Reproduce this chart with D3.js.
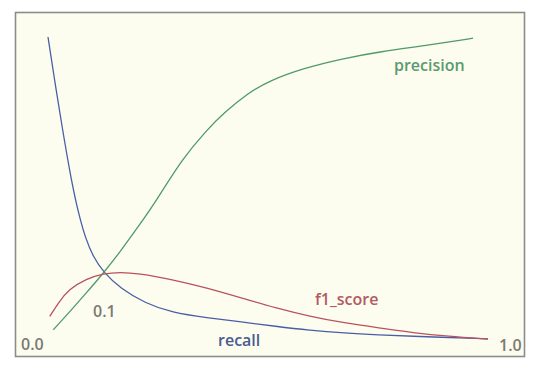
<!DOCTYPE html>
<html>
<head>
<meta charset="utf-8">
<script src="https://cdn.jsdelivr.net/npm/d3@7"></script>
<style>
  html, body { margin: 0; padding: 0; background: #ffffff; }
  svg { display: block; }
</style>
</head>
<body>
<svg id="chart" width="540" height="366"></svg>
<script>
// threshold (0..1) vs metric value (0..1)
const recallT = [0.0, 0.016, 0.032, 0.054, 0.071, 0.086, 0.102, 0.126, 0.165, 0.220, 0.282, 0.361, 0.439, 0.517, 0.595, 0.674, 0.752, 0.830, 1.0];
const recallV = [1.0, 0.848, 0.703, 0.518, 0.408, 0.333, 0.277, 0.223, 0.170, 0.122, 0.090, 0.073, 0.060, 0.045, 0.032, 0.023, 0.017, 0.012, 0.004];

const precisionT = [0.012, 0.048, 0.087, 0.126, 0.165, 0.204, 0.243, 0.306, 0.361, 0.400, 0.455, 0.502, 0.580, 0.674, 0.752, 0.870, 0.966];
const precisionV = [0.034, 0.091, 0.155, 0.221, 0.293, 0.372, 0.452, 0.600, 0.693, 0.750, 0.815, 0.855, 0.897, 0.930, 0.951, 0.974, 0.996];

const f1T = [0.004, 0.024, 0.048, 0.087, 0.126, 0.165, 0.204, 0.282, 0.361, 0.439, 0.517, 0.595, 0.674, 0.752, 0.830, 0.909, 1.0];
const f1V = [0.078, 0.124, 0.168, 0.202, 0.220, 0.224, 0.220, 0.200, 0.172, 0.139, 0.106, 0.078, 0.056, 0.040, 0.024, 0.012, 0.003];

const seriesNames = ["recall", "precision", "f1_score"];
const tickLabels = ["0.0", "0.1", "1.0"];

const svg = d3.select("#chart");

// frame
svg.append("rect")
  .attr("x", 15.5).attr("y", 12.5)
  .attr("width", 509).attr("height", 344)
  .attr("fill", "#fdfdef")
  .attr("stroke", "#8c8c88")
  .attr("stroke-width", 1.6);

const x = d3.scaleLinear().domain([0, 1]).range([48, 488]);
const y = d3.scaleLinear().domain([0, 1]).range([340, 37]);

const line = d3.line()
  .x(d => x(d[0]))
  .y(d => y(d[1]))
  .curve(d3.curveBasis);

const series = [
  { name: seriesNames[0], t: recallT, v: recallV, color: "#4a5ea6" },
  { name: seriesNames[1], t: precisionT, v: precisionV, color: "#4f9a68" },
  { name: seriesNames[2], t: f1T, v: f1V, color: "#b8525f" }
];

series.forEach(s => {
  const pts = s.t.map((t, i) => [t, s.v[i]]);
  svg.append("path")
    .datum(pts)
    .attr("d", line)
    .attr("fill", "none")
    .attr("stroke", s.color)
    .attr("stroke-width", 1.3);
});

const font = "'Open Sans', 'Noto Sans', sans-serif";

// series labels
const labelPos = [
  { text: seriesNames[0], x: 218, y: 346, color: "#4a5a90" },
  { text: seriesNames[1], x: 394, y: 71, color: "#5a9a70" },
  { text: seriesNames[2], x: 315, y: 305, color: "#b25a64" }
];
labelPos.forEach(l => {
  svg.append("text")
    .attr("x", l.x).attr("y", l.y)
    .attr("fill", l.color)
    .attr("font-family", font)
    .attr("font-weight", 600)
    .attr("font-size", 16)
    .text(l.text);
});

// threshold labels
const tickPos = [
  { text: tickLabels[0], x: 21, y: 350 },
  { text: tickLabels[1], x: 93, y: 317 },
  { text: tickLabels[2], x: 499, y: 350.5 }
];
tickPos.forEach(l => {
  svg.append("text")
    .attr("x", l.x).attr("y", l.y)
    .attr("fill", "#7a7a74")
    .attr("font-family", font)
    .attr("font-weight", 600)
    .attr("font-size", 16)
    .text(l.text);
});
</script>
</body>
</html>
